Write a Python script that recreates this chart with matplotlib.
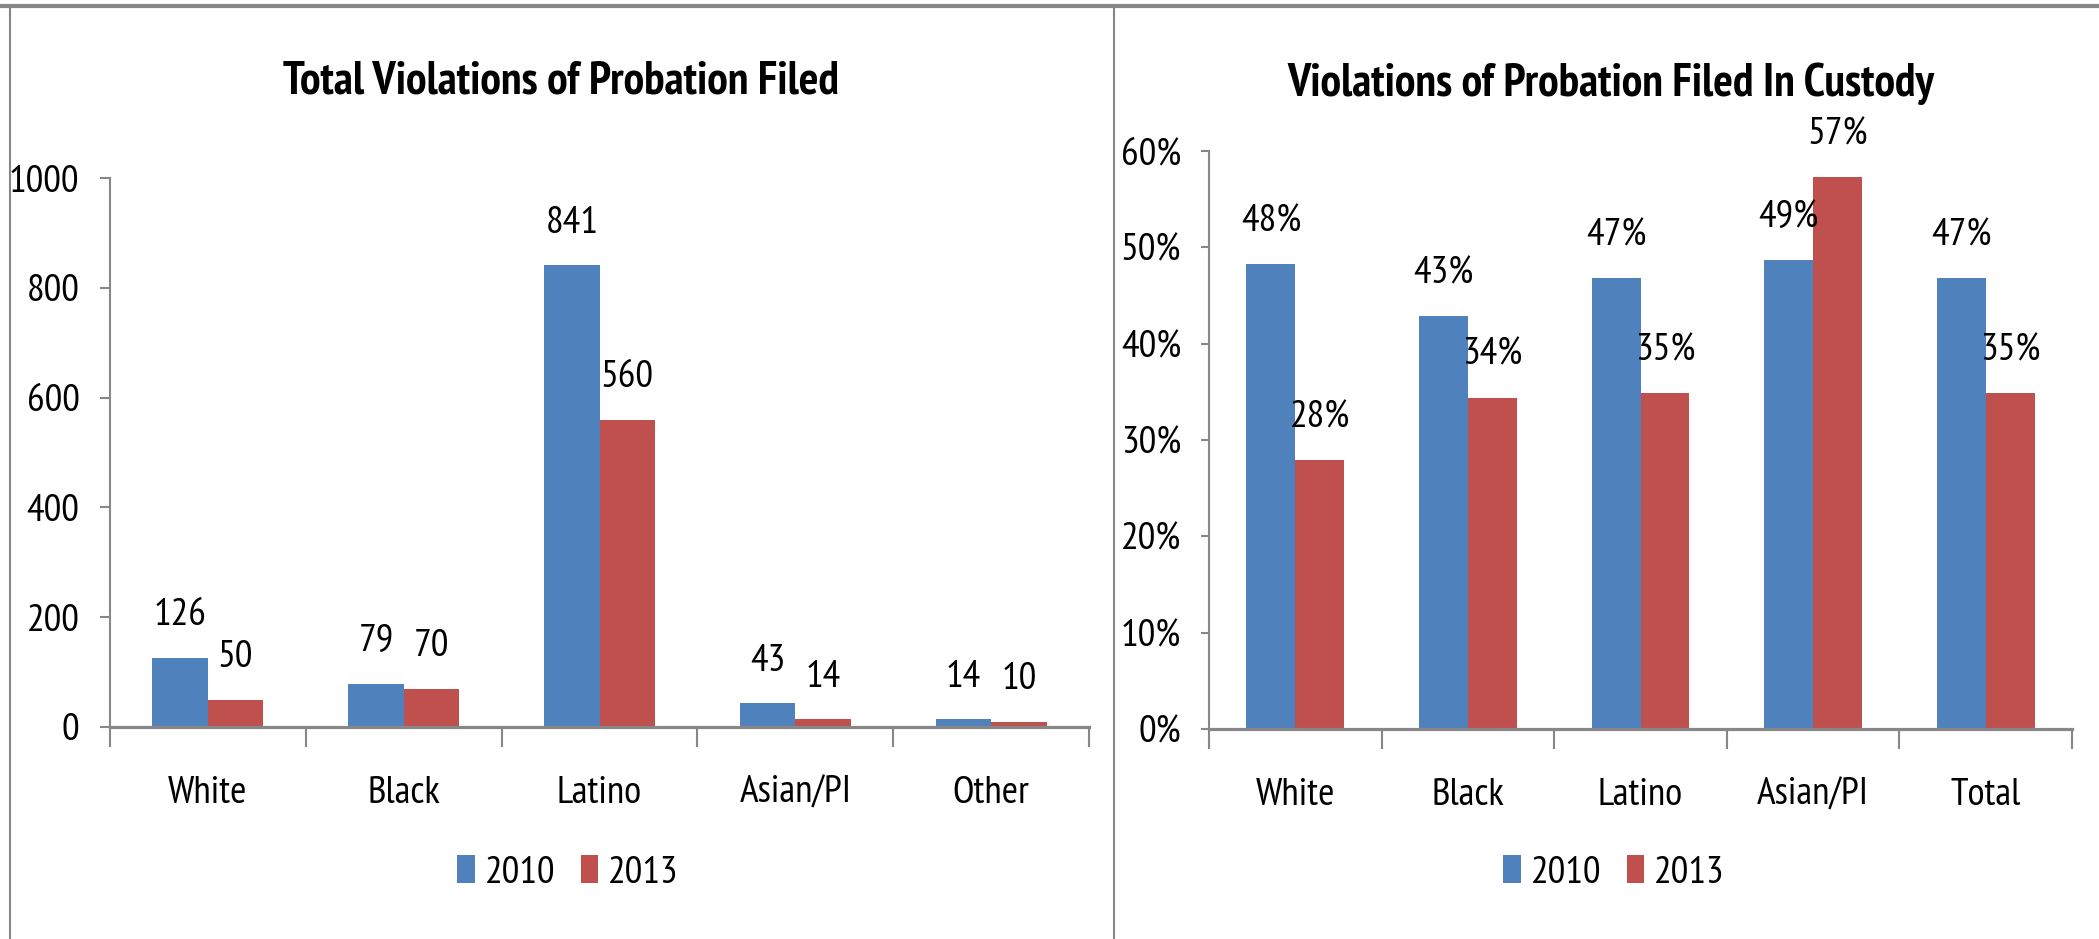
import matplotlib
matplotlib.use("Agg")
import matplotlib.pyplot as plt
from matplotlib import font_manager as fm
from matplotlib.font_manager import FontProperties
from matplotlib.textpath import TextPath
from matplotlib.lines import Line2D
from matplotlib.patches import Patch

# ---------------- data ----------------
left_categories = ["White", "Black", "Latino", "Asian/PI", "Other"]
left_2010 = [126, 79, 841, 43, 14]
left_2013 = [50, 70, 560, 14, 10]
left_title = "Total Violations of Probation Filed"
left_yticks = [0, 200, 400, 600, 800, 1000]

right_categories = ["White", "Black", "Latino", "Asian/PI", "Total"]
right_2010 = [48.3, 42.9, 46.8, 48.7, 46.8]
right_2013 = [27.9, 34.4, 34.9, 57.3, 34.9]
right_title = "Violations of Probation Filed In Custody"
right_yticks = [0, 10, 20, 30, 40, 50, 60]

series_names = ["2010", "2013"]

# ---------------- style ----------------
BLUE = "#4F81BD"
RED = "#C0504D"
GRAY = "#878787"

names = {f.name for f in fm.fontManager.ttflist}
MAIN = "PT Sans Narrow" if "PT Sans Narrow" in names else "Liberation Sans"
FAM = [MAIN, "DejaVu Sans"]
plt.rcParams["font.family"] = FAM


def size_for_cap(cap_px, weight="normal"):
    h = TextPath((0, 0), "H", size=100,
                 prop=FontProperties(family=MAIN, weight=weight)).get_extents().height
    return cap_px * 100.0 / h * 0.72   # points at 100 dpi


FS = size_for_cap(27.5)
TFS = size_for_cap(32.3, "bold")

W, H = 2099, 939
fig = plt.figure(figsize=(W / 100, H / 100), dpi=100)


def fx(px):
    return px / W


def fy(py):
    return 1 - py / H


def draw_panel(rect, cats, s1, s2, yticks, ylim, pct, ticklen):
    ax = fig.add_axes(rect)
    n = len(cats)
    xs = list(range(n))
    bw = 0.283
    ax.bar([x - bw / 2 for x in xs], s1, width=bw, color=BLUE, zorder=2)
    ax.bar([x + bw / 2 for x in xs], s2, width=bw, color=RED, zorder=2)
    for x, v in zip(xs, s1):
        ax.annotate(f"{round(v)}%" if pct else f"{v}", xy=(x - bw / 2, v),
                    xytext=(0, 23.5), textcoords="offset points",
                    ha="center", va="baseline", fontsize=FS,
                    annotation_clip=False)
    for x, v in zip(xs, s2):
        ax.annotate(f"{round(v)}%" if pct else f"{v}", xy=(x + bw / 2, v),
                    xytext=(0, 23.5), textcoords="offset points",
                    ha="center", va="baseline", fontsize=FS,
                    annotation_clip=False)
    ax.set_xlim(-0.5, n - 0.5)
    ax.set_ylim(*ylim)
    ax.set_yticks(yticks)
    ax.set_yticklabels([f"{t}%" if pct else f"{t}" for t in yticks], fontsize=FS)
    ax.set_xticks([i - 0.5 for i in range(n + 1)])
    ax.set_xticklabels([])
    ax.set_xticks(xs, minor=True)
    ax.set_xticklabels(cats, minor=True, fontsize=FS)
    ax.tick_params(axis="x", which="major", length=14.5, width=1.5,
                   color=GRAY, direction="out")
    ax.tick_params(axis="x", which="minor", length=0, pad=35)
    ax.tick_params(axis="y", length=ticklen, width=1.5, color=GRAY,
                   direction="out", pad=14.5)
    for s in ("top", "right"):
        ax.spines[s].set_visible(False)
    ax.spines["left"].set_color(GRAY)
    ax.spines["left"].set_linewidth(1.5)
    ax.spines["bottom"].set_color(GRAY)
    ax.spines["bottom"].set_linewidth(2.3)
    ax.spines["bottom"].set_zorder(3)
    ax.set_facecolor("none")
    return ax


# left panel
draw_panel([fx(110), fy(727), fx(1089 - 110), (727 - 178) / H],
           left_categories, left_2010, left_2013, left_yticks, (0, 1000),
           False, 7.5)
# right panel
draw_panel([fx(1209), fy(729), fx(2072 - 1209), (729 - 151) / H],
           right_categories, right_2010, right_2013, right_yticks, (0, 60),
           True, 5.5)

# titles
fig.text(fx(561), fy(93), left_title, ha="center", va="baseline",
         fontsize=TFS, fontweight="bold")
fig.text(fx(1611), fy(96), right_title, ha="center", va="baseline",
         fontsize=TFS, fontweight="bold")

# legends
handles = [Patch(facecolor=BLUE), Patch(facecolor=RED)]
for cx in (568, 1614):
    fig.legend(handles, series_names, loc="center",
               bbox_to_anchor=(fx(cx), fy(873)), ncol=2, frameon=False,
               fontsize=FS, handlelength=0.45, handleheight=0.7,
               handletextpad=0.25, columnspacing=0.65, borderpad=0,
               borderaxespad=0)

# panel borders
fig.add_artist(Line2D([0, 1], [fy(6), fy(6)], transform=fig.transFigure,
                      color=GRAY, linewidth=3.0))
fig.add_artist(Line2D([fx(10), fx(10)], [0, fy(6)], transform=fig.transFigure,
                      color=GRAY, linewidth=1.5))
fig.add_artist(Line2D([fx(1114), fx(1114)], [0, fy(6)],
                      transform=fig.transFigure, color=GRAY, linewidth=1.5))

fig.savefig("out.png", dpi=100, facecolor="white")
